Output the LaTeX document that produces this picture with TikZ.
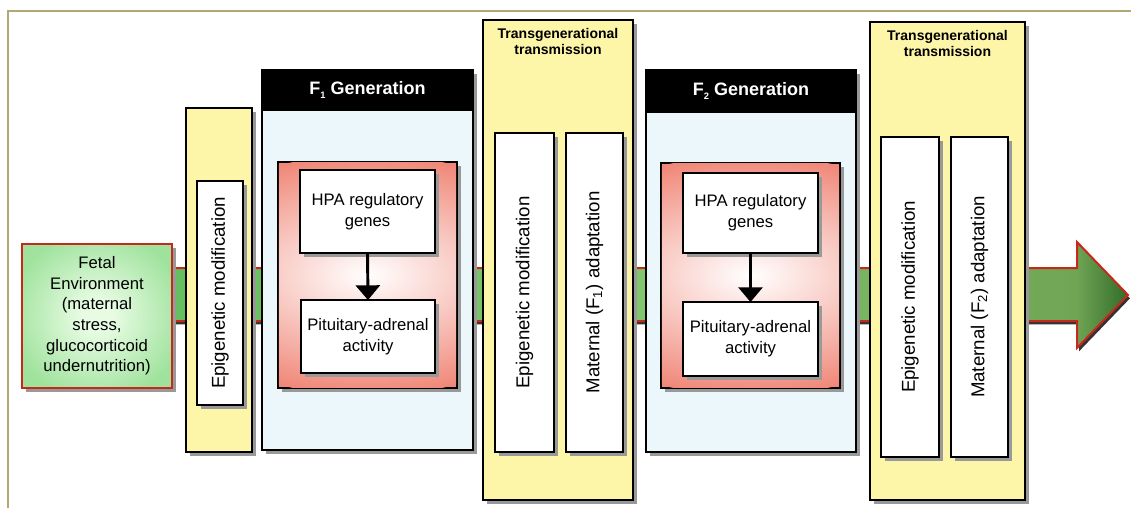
\documentclass[tikz,border=0pt]{standalone}
\usepackage{fontspec}
\setmainfont{Liberation Sans}
\usepackage{graphicx}
\usetikzlibrary{shadows,arrows.meta}

\definecolor{frameTan}{RGB}{178,168,118}
\definecolor{colYellow}{RGB}{253,246,168}
\definecolor{panelBlue}{RGB}{236,247,251}
\definecolor{salmon}{RGB}{240,135,120}
\definecolor{fetalIn}{RGB}{232,252,228}
\definecolor{fetalOut}{RGB}{158,226,155}
\definecolor{borderRed}{RGB}{200,40,28}
\definecolor{shaftLeft}{RGB}{100,190,96}
\definecolor{shaftMid}{RGB}{128,198,108}
\definecolor{shaftRight}{RGB}{112,165,84}
\definecolor{tipDark}{RGB}{50,108,42}

% soft green glow for the starting box
\pgfdeclareradialshading{fetalglow}{\pgfpoint{0bp}{0bp}}{%
  color(0bp)=(fetalIn); color(5bp)=(fetalIn); color(30bp)=(fetalOut); color(50bp)=(fetalOut)}
% green of the long arrow, darkening inside the head
\pgfdeclarehorizontalshading{arrowfade}{100bp}{%
  color(0bp)=(shaftLeft); color(25bp)=(shaftLeft); color(50bp)=(shaftMid);
  color(72.3bp)=(shaftRight); color(75bp)=(tipDark); color(100bp)=(tipDark)}

\newcommand\bodyfont{\fontsize{12.5}{15.5}\selectfont}
\newcommand\rotfont{\fontsize{14}{16}\selectfont}
\newcommand\headfont{\bfseries\fontsize{13.5}{16}\selectfont}
\newcommand\titlefont{\bfseries\fontsize{10.5}{12}\selectfont}
\newcommand\subidx[1]{\raisebox{-0.35ex}{\fontsize{7}{7}\selectfont #1}}

% box from its corners: name, style, x1, y1, x2, y2, text
\newcommand\boxat[7]{%
  \node[#2, minimum width={(#5-#3)*0.75pt}, minimum height={(#6-#4)*0.75pt}]
    (#1) at ({(#3+#5)/2},{(#4+#6)/2}) {#7};}

% pale centre inside a red box
\newcommand\redglow[1]{%
  \begin{scope}
    \clip ([shift={(0.6pt,-0.6pt)}]#1.north west) rectangle ([shift={(-0.6pt,0.6pt)}]#1.south east);
    \shade[inner color=white, outer color=salmon] (#1.center) ellipse [x radius=220, y radius=120];
  \end{scope}}

\tikzset{
  shadowed/.style={drop shadow={shadow xshift=3pt, shadow yshift=-3pt, fill=black!40, opacity=1}},
  outlined/.style={draw=black, line width=1.2pt},
  yellowcol/.style={outlined, fill=colYellow, shadowed},
  whitebox/.style={outlined, fill=white, shadowed, font=\bodyfont},
  panel/.style={outlined, fill=panelBlue, shadowed},
  header/.style={draw=black, line width=1.2pt, fill=black, text=white, font=\headfont},
  redbox/.style={outlined, fill=salmon, shadowed},
  fetalbox/.style={draw=borderRed, line width=1.5pt, shading=fetalglow, shadowed, font=\bodyfont},
  flow/.style={line width=2.2pt, -{Triangle[width=18pt,length=11pt]}},
  coltitle/.style={font=\titlefont, anchor=north}
}

\begin{document}
\begin{tikzpicture}[x=0.75pt, y=-0.75pt,
  every node/.style={outer sep=0pt, inner sep=0pt, align=center}]
\useasboundingbox (0,0) rectangle (1131,508);

% outer frame
\draw[frameTan, line width=1.5pt] (8,508) -- (8,11) -- (1131,11);

% long arrow running behind everything
\path[draw=borderRed, line width=1.5pt, shading=arrowfade,
      drop shadow={shadow xshift=1.5pt, shadow yshift=-2.5pt, fill=black!80, opacity=1}]
  (160,268) -- (1077,268) -- (1077,242) -- (1128,295) -- (1077,348) -- (1077,321) -- (160,321) -- cycle;

% fetal environment
\boxat{fetal}{fetalbox}{22}{244}{172}{388}{Fetal\\Environment\\(maternal\\stress,\\glucocorticoid\\undernutrition)}

% first epigenetic column
\boxat{epi0col}{yellowcol}{186}{108}{252}{452}{}
\boxat{epi0}{whitebox}{197}{181}{243}{405}{\rotatebox{90}{\rotfont Epigenetic modification}}

% F1 generation
\boxat{gen1}{panel}{262}{70}{473}{450}{}
\boxat{gen1head}{header}{262}{70}{473}{110}{F\subidx{1} Generation}
\boxat{hpa1box}{redbox}{278}{162}{457}{388}{}
\redglow{hpa1box}
\boxat{hpa1}{whitebox}{300}{170}{435}{253}{HPA regulatory\\genes}
\boxat{pit1}{whitebox}{301}{300}{435}{373}{Pituitary-adrenal\\activity}
\draw[flow] (hpa1.south) -- (pit1.north);

% transgenerational transmission to F2
\boxat{tt1}{yellowcol}{483}{20}{633}{500}{}
\node[coltitle] (tt1title) at ([yshift=-6.5pt]tt1.north) {Transgenerational\\transmission};
\boxat{epi1}{whitebox}{495}{133}{554}{452}{\rotatebox{90}{\rotfont Epigenetic modification}}
\boxat{mat1}{whitebox}{566}{133}{623}{452}{\rotatebox{90}{\rotfont Maternal (F\textsubscript{1}) adaptation}}

% F2 generation
\boxat{gen2}{panel}{646}{70}{856}{452}{}
\boxat{gen2head}{header}{646}{70}{856}{112}{F\subidx{2} Generation}
\boxat{hpa2box}{redbox}{661}{163}{840}{388}{}
\redglow{hpa2box}
\boxat{hpa2}{whitebox}{683}{173}{818}{253}{HPA regulatory\\genes}
\boxat{pit2}{whitebox}{683}{302}{818}{376}{Pituitary-adrenal\\activity}
\draw[flow] (hpa2.south) -- (pit2.north);

% transgenerational transmission onward
\boxat{tt2}{yellowcol}{870}{22}{1025}{500}{}
\node[coltitle] (tt2title) at ([yshift=-6.5pt]tt2.north) {Transgenerational\\transmission};
\boxat{epi2}{whitebox}{881}{137}{939}{457}{\rotatebox{90}{\rotfont Epigenetic modification}}
\boxat{mat2}{whitebox}{951}{137}{1008}{457}{\rotatebox{90}{\rotfont Maternal (F\textsubscript{2}) adaptation}}
\end{tikzpicture}
\end{document}
